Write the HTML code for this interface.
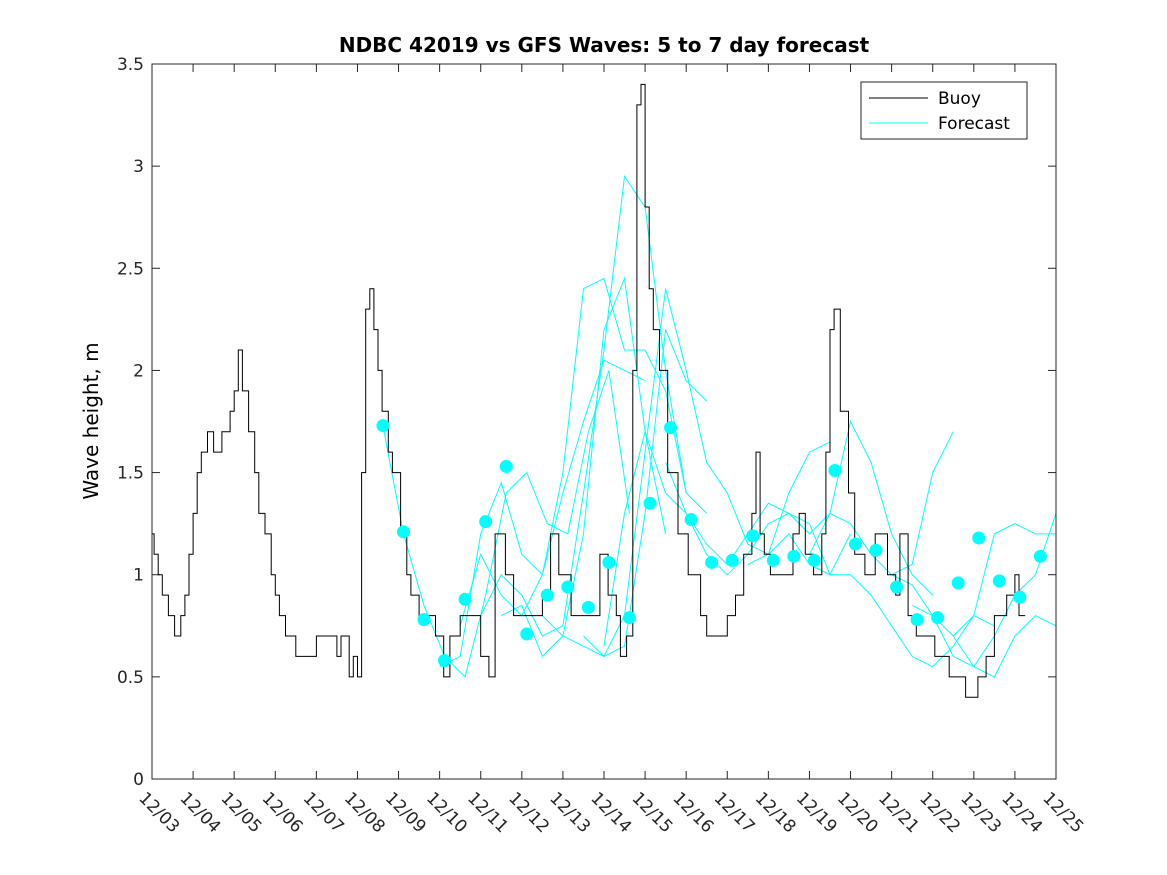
<!DOCTYPE html>
<html><head><meta charset="utf-8"><style>
html,body{margin:0;padding:0;background:#fff;}
svg{display:block;font-family:"DejaVu Sans","Liberation Sans",sans-serif;}
</style></head><body>
<svg id="chart" width="1167" height="875" xmlns="http://www.w3.org/2000/svg">
<defs><clipPath id="plotclip"><rect x="152" y="64" width="904" height="715"/></clipPath></defs>
<rect width="1167" height="875" fill="#fff"/>
<text x="604" y="52" text-anchor="middle" font-size="20" font-weight="bold">NDBC 42019 vs GFS Waves: 5 to 7 day forecast</text>
<text transform="translate(98,421) rotate(-90)" text-anchor="middle" font-size="20">Wave height, m</text>
<g id="ticks"></g>
<g id="series" clip-path="url(#plotclip)"></g>
<rect x="152" y="64" width="904" height="715" fill="none" stroke="#262626" stroke-width="1"/>
<g>
<rect x="861" y="82" width="166" height="57" fill="#fff" stroke="#262626"/>
<line x1="869" y1="98" x2="928" y2="98" stroke="#000"/>
<text x="938" y="104" font-size="17">Buoy</text>
<line x1="869" y1="123" x2="928" y2="123" stroke="#00ffff"/>
<text x="938" y="129" font-size="17">Forecast</text>
</g>
</svg>
<script>
const xTickLabels=["12/03","12/04","12/05","12/06","12/07","12/08","12/09","12/10","12/11","12/12","12/13","12/14","12/15","12/16","12/17","12/18","12/19","12/20","12/21","12/22","12/23","12/24","12/25"];
const yTicks=[0,0.5,1,1.5,2,2.5,3,3.5];
const buoyDays=[0,0.05,0.15,0.25,0.4,0.55,0.7,0.8,0.9,1.0,1.1,1.2,1.35,1.5,1.7,1.9,2.0,2.1,2.2,2.35,2.5,2.6,2.75,2.9,3.0,3.1,3.25,3.5,3.7,4.0,4.5,4.6,4.8,4.9,5.0,5.1,5.2,5.3,5.4,5.5,5.6,5.75,5.85,6.05,6.2,6.3,6.5,6.8,6.9,7.1,7.25,7.5,7.85,8.0,8.2,8.35,8.6,8.8,9.3,9.5,9.7,9.9,10.2,10.7,10.9,11.1,11.3,11.4,11.55,11.7,11.8,11.9,12.0,12.1,12.2,12.35,12.55,12.8,13.05,13.35,13.5,13.8,14.0,14.2,14.4,14.6,14.7,14.8,14.9,15.05,15.3,15.6,15.75,15.9,16.1,16.3,16.4,16.5,16.6,16.75,16.95,17.1,17.35,17.6,17.9,18.1,18.2,18.4,18.6,18.8,19.05,19.2,19.4,19.8,20.1,20.3,20.5,20.8,21.0,21.1,21.25];
const buoyValues=[1.2,1.1,1.0,0.9,0.8,0.7,0.8,0.9,1.1,1.3,1.5,1.6,1.7,1.6,1.7,1.8,1.9,2.1,1.9,1.7,1.5,1.3,1.2,1.0,0.9,0.8,0.7,0.6,0.6,0.7,0.6,0.7,0.5,0.6,0.5,1.5,2.3,2.4,2.2,2.0,1.8,1.6,1.5,1.2,1.0,0.9,0.8,0.8,0.7,0.5,0.7,0.8,0.8,0.6,0.5,1.2,1.0,0.8,0.8,0.9,1.2,1.0,0.8,0.8,1.1,0.9,0.8,0.6,0.7,2.0,3.3,3.4,2.8,2.4,2.2,2.0,1.5,1.2,1.0,0.8,0.7,0.7,0.8,0.9,1.1,1.3,1.6,1.2,1.1,1.0,1.0,1.2,1.3,1.1,1.0,1.2,1.6,2.2,2.3,1.8,1.4,1.1,1.0,1.2,1.0,0.9,1.2,0.8,0.7,0.7,0.6,0.6,0.5,0.4,0.5,0.6,0.8,0.9,1.0,0.8,0.8];
const dotStartDay=5.62;
const dotValues=[1.73,1.21,0.78,0.58,0.88,1.26,1.53,0.71,0.90,0.94,0.84,1.06,0.79,1.35,1.72,1.27,1.06,1.07,1.19,1.07,1.09,1.07,1.51,1.15,1.12,0.94,0.78,0.79,0.96,1.18,0.97,0.89,1.09];
const fcStarts=[5.62,7.0,7.5,8.0,8.5,9.5,10.5,11.0,12.5,14.5,16,18,19.5,18.5];
const fc1=[1.73,1.2,0.85,0.6,0.5,0.9,1.4,1.5,1.25,1.2,1.7,2.0,1.3];
const fc2=[0.55,0.6,1.2,1.45,1.1,1.0,1.4,1.75,2.05,2.0,1.95];
const fc3=[0.75,1.1,0.9,0.8,1.0,1.5,2.4,2.45,2.1,2.1,1.9,1.4];
const fc4=[0.8,1.0,0.9,0.7,0.75,1.4,2.1,2.95,2.8,2.0,1.4,1.3];
const fc5=[0.8,0.85,0.6,0.7,1.2,2.2,2.45,1.7,1.2];
const fc6=[0.8,0.7,0.65,0.6,0.65,1.3,2.2,1.95,1.85];
const fc7=[0.7,0.6,0.8,1.6,2.4,2.0,1.55,1.4,1.15,1.1,1.4,1.6,1.65];
const fc8=[0.65,1.3,1.7,1.4,1.3,1.15,1.05,1.2,1.35,1.3,1.25,1.0,1.2];
const fc9=[1.55,1.3,1.1,1.0,1.1,1.25,1.3,1.2,1.3,1.75,1.55,1.2,1.0,0.9];
const fc10=[1.05,1.1,1.2,1.05,1.0,1.0,0.9,0.75,0.6,0.55,0.65,0.8,0.75];
const fc11=[1.1,1.3,1.25,1.1,1.0,1.05,1.5,1.7];
const fc12=[1.0,0.95,0.8,0.6,0.55,0.7,0.9,1.0,1.3,1.3,1.5];
const fc13=[0.7,0.8,1.2,1.25,1.2,1.2,1.25];
const fc14=[0.85,0.8,0.7,0.55,0.5,0.7,0.8,0.75,0.85,0.9];
const fcLines=[fc1,fc2,fc3,fc4,fc5,fc6,fc7,fc8,fc9,fc10,fc11,fc12,fc13,fc14];

const NS="http://www.w3.org/2000/svg";
const X0=152,X1=1056,Y0=779,Y1=64;
const xs=d=>X0+d*(X1-X0)/22;
const ys=v=>Y0-v*(Y0-Y1)/3.5;
const tg=document.getElementById('ticks'), sg=document.getElementById('series');
function mk(tag,attrs,parent){const e=document.createElementNS(NS,tag);for(const k in attrs)e.setAttribute(k,attrs[k]);parent.appendChild(e);return e;}
yTicks.forEach(v=>{
  const y=ys(v);
  const l=mk('line',{x1:X0,x2:X0+8,y1:y,y2:y,stroke:'#262626'},tg);
  
  
  const r=mk('line',{x1:X1-8,x2:X1,y1:y,y2:y,stroke:'#262626'},tg);
  
  
  const t=mk('text',{x:X0-8,y:y+6,'text-anchor':'end','font-size':17,fill:'#262626'},tg);
  t.textContent=String(v);
  
  
});
xTickLabels.forEach((lab,i)=>{
  const x=xs(i);
  const l=mk('line',{x1:x,x2:x,y1:Y0,y2:Y0-8,stroke:'#262626'},tg);
  
  
  const t2=mk('line',{x1:x,x2:x,y1:Y1,y2:Y1+8,stroke:'#262626'},tg);
  
  
  const t=mk('text',{transform:`translate(${x-14},${Y0+20}) rotate(45)`,'font-size':17,fill:'#262626'},tg);
  t.textContent=lab;
  
  
});
fcLines.forEach((arr,i)=>{
  const pts=arr.map((v,j)=>xs(fcStarts[i]+j*0.5).toFixed(1)+','+ys(v).toFixed(1)).join(' ');
  const p=mk('polyline',{points:pts,fill:'none',stroke:'#00ffff','stroke-width':1},sg);
  
  
});
let bp=[];
buoyDays.forEach((d,i)=>{
  if(i>0)bp.push(xs(d).toFixed(1)+','+ys(buoyValues[i-1]).toFixed(1));
  bp.push(xs(d).toFixed(1)+','+ys(buoyValues[i]).toFixed(1));
});
const b=mk('polyline',{points:bp.join(' '),fill:'none',stroke:'#000','stroke-width':1},sg);


dotValues.forEach((v,i)=>{
  const c=mk('circle',{cx:xs(dotStartDay+i*0.5),cy:ys(v),r:6.5,fill:'#00ffff'},sg);
  
  
});
</script>
</body></html>
